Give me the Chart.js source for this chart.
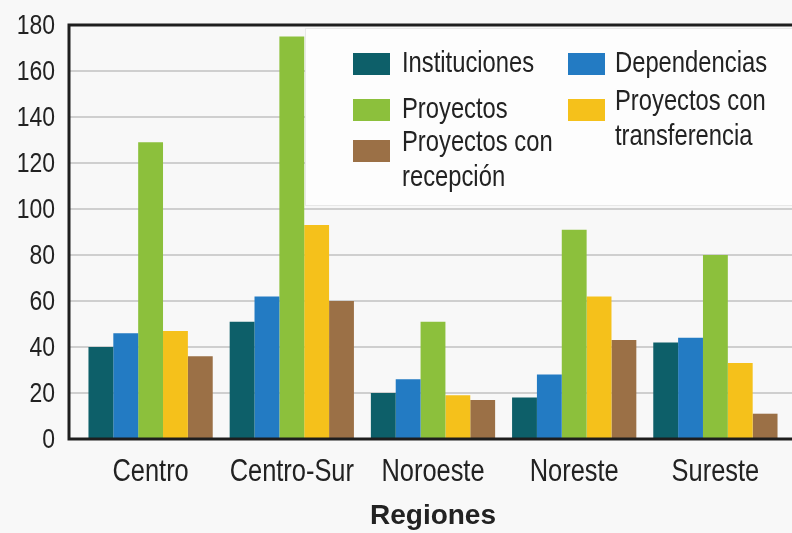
<!DOCTYPE html>
<html>
<head>
<meta charset="utf-8">
<script src="https://cdn.jsdelivr.net/npm/chart.js@4/dist/chart.umd.min.js"></script>
<style>
  html, body { margin: 0; padding: 0; background: #f8f8f8; }
  #wrap { width: 792px; height: 533px; }
</style>
</head>
<body>
<div id="wrap"><canvas id="c" width="792" height="533"></canvas></div>
<script>
const categories = ['Centro', 'Centro-Sur', 'Noroeste', 'Noreste', 'Sureste'];
const instituciones = [40, 51, 20, 18, 42];
const dependencias = [46, 62, 26, 28, 44];
const proyectos = [129, 175, 51, 91, 80];
const proyectosTransferencia = [47, 93, 19, 62, 33];
const proyectosRecepcion = [36, 60, 17, 43, 11];
const seriesNames = ['Instituciones', 'Dependencias', 'Proyectos', 'Proyectos con transferencia', 'Proyectos con recepción'];
const legendLines = [['Instituciones'], ['Dependencias'], ['Proyectos'], ['Proyectos con', 'transferencia'], ['Proyectos con', 'recepción']];
const xTitle = 'Regiones';
const yMin = 0, yMax = 180, yStep = 20;

const FONT = '"Liberation Sans", Arial, Helvetica, sans-serif';
const SQUEEZE = 0.82;
const colors = ['#0d5f69', '#237bc3', '#8cc03c', '#f5c11b', '#9b7046'];

function drawCond(ctx, text, x, y, size, align, bold) {
  ctx.save();
  ctx.font = (bold ? 'bold ' : '') + size + 'px ' + FONT;
  ctx.textBaseline = 'middle';
  ctx.textAlign = align;
  ctx.fillStyle = '#222';
  ctx.translate(x, y);
  ctx.scale(SQUEEZE, 1);
  ctx.fillText(text, 0, 0);
  ctx.restore();
}

const framePlugin = {
  id: 'frame',
  beforeDraw(chart) {
    const ctx = chart.ctx;
    ctx.save();
    ctx.fillStyle = '#f8f8f8';
    ctx.fillRect(0, 0, chart.width, chart.height);
    ctx.restore();
  },
  beforeDatasetsDraw(chart) {
    const ctx = chart.ctx;
    const y = chart.scales.y;
    const left = chart.chartArea.left - 11;
    ctx.save();
    // gridlines
    ctx.strokeStyle = '#cfcfcf';
    ctx.lineWidth = 2;
    y.ticks.forEach(t => {
      if (t.value === yMin || t.value === yMax) return;
      const py = Math.round(y.getPixelForValue(t.value));
      ctx.beginPath();
      ctx.moveTo(left, py);
      ctx.lineTo(chart.width, py);
      ctx.stroke();
    });
    // legend box
    const bx = 305, by = 28, bw = chart.width - bx, bh = 177;
    ctx.fillStyle = '#fdfdfd';
    ctx.fillRect(bx, by, bw, bh);
    ctx.strokeStyle = '#e8e8e8';
    ctx.lineWidth = 1;
    ctx.strokeRect(bx + 0.5, by + 0.5, bw, bh);
    ctx.restore();
    // legend items
    const pos = [
      { sx: 353, tx: 402, y: 64 },
      { sx: 568, tx: 615, y: 64 },
      { sx: 353, tx: 402, y: 110 },
      { sx: 568, tx: 615, y: 110 },
      { sx: 353, tx: 402, y: 151 }
    ];
    chart.data.datasets.forEach((ds, i) => {
      const p = pos[i];
      ctx.save();
      ctx.fillStyle = ds.backgroundColor;
      ctx.fillRect(p.sx, p.y - 11, 37, 22);
      ctx.restore();
      const lines = legendLines[i];
      const ty = lines.length > 1 ? p.y - 8 : p.y;
      lines.forEach((l, k) => drawCond(ctx, l, p.tx, ty + k * 35, 29, 'left', false));
    });
  },
  afterDatasetsDraw(chart) {
    const ctx = chart.ctx;
    const y = chart.scales.y;
    const x = chart.scales.x;
    const left = chart.chartArea.left - 11;
    const top = Math.round(y.getPixelForValue(yMax));
    const bottom = Math.round(y.getPixelForValue(yMin));
    ctx.save();
    ctx.strokeStyle = '#1e1e1e';
    ctx.lineWidth = 3;
    ctx.beginPath();
    ctx.moveTo(chart.width, top);
    ctx.lineTo(left, top);
    ctx.lineTo(left, bottom);
    ctx.lineTo(chart.width, bottom);
    ctx.stroke();
    ctx.restore();
    // y tick labels
    y.ticks.forEach(t => {
      drawCond(ctx, String(t.value), chart.chartArea.left - 25, y.getPixelForValue(t.value) + 1, 28, 'right', false);
    });
    // x tick labels
    x.ticks.forEach((t, i) => {
      drawCond(ctx, x.getLabelForValue(t.value), x.getPixelForTick(i), chart.chartArea.bottom + 33, 31, 'center', false);
    });
  }
};

const series = [instituciones, dependencias, proyectos, proyectosTransferencia, proyectosRecepcion];

new Chart(document.getElementById('c'), {
  type: 'bar',
  data: {
    labels: categories,
    datasets: series.map((d, i) => ({
      label: seriesNames[i],
      data: d,
      backgroundColor: colors[i],
      borderWidth: 0,
      categoryPercentage: 0.88,
      barPercentage: 1.0
    }))
  },
  options: {
    responsive: false,
    animation: false,
    devicePixelRatio: 1,
    layout: { padding: { top: 25, right: 6, left: 0, bottom: 0 } },
    plugins: { legend: { display: false }, tooltip: { enabled: false } },
    scales: {
      x: {
        grid: { display: false },
        border: { display: false },
        ticks: { display: false, autoSkip: false },
        title: { display: true, text: xTitle, color: '#222', font: { family: FONT, size: 28, weight: 'bold' }, padding: { top: 0, bottom: 0 } },
        afterFit(scale) { scale.height = 94; }
      },
      y: {
        min: yMin, max: yMax,
        grid: { display: false, drawTicks: false },
        border: { display: false },
        ticks: { display: false, stepSize: yStep },
        afterFit(scale) { scale.width = 80; }
      }
    }
  },
  plugins: [framePlugin]
});
</script>
</body>
</html>
